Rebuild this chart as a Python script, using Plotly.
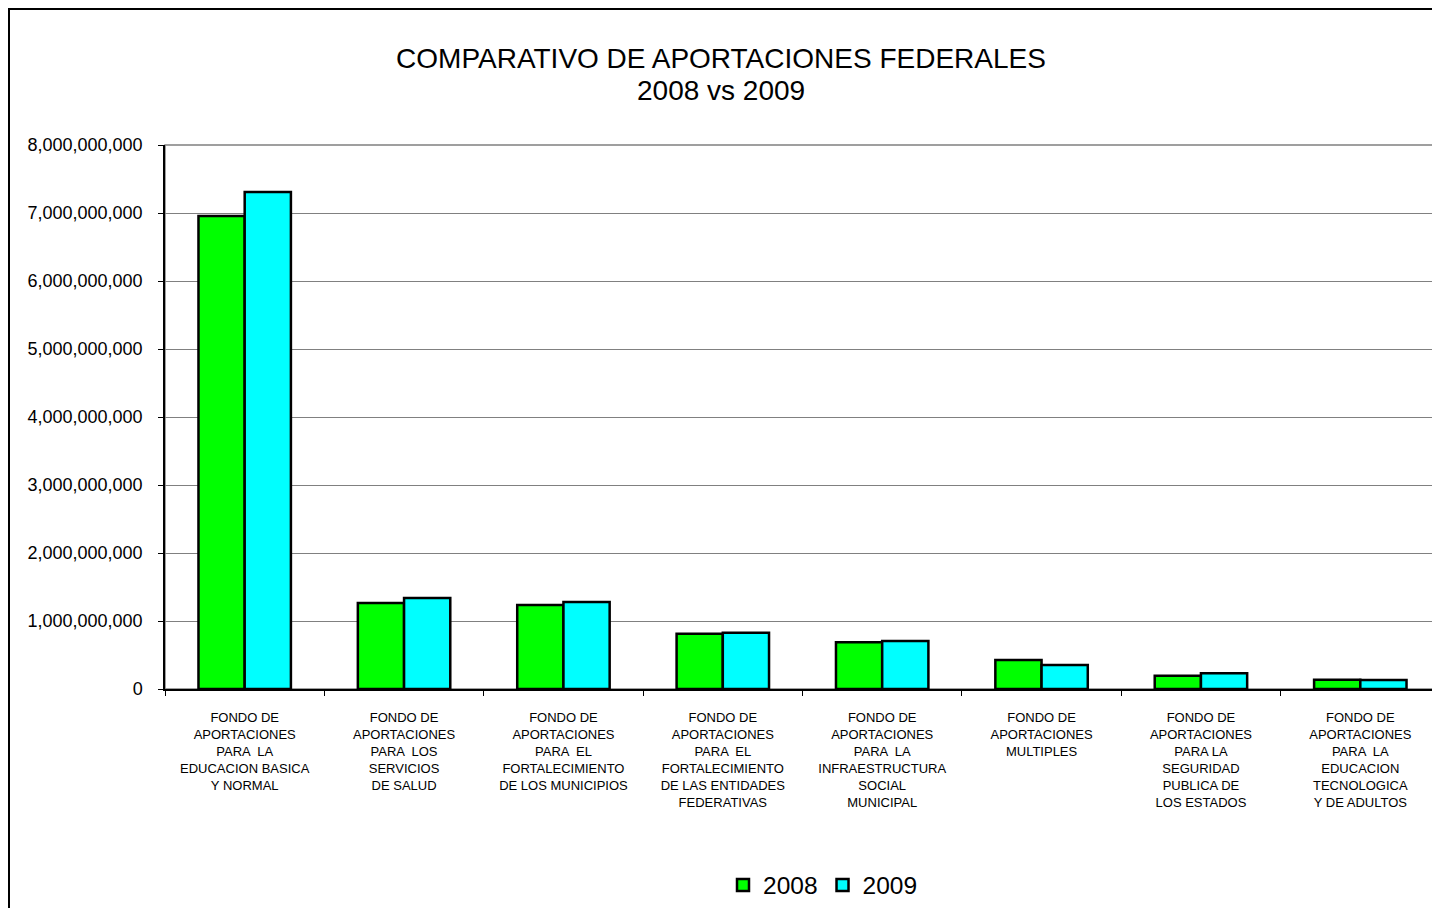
import plotly.graph_objects as go

categories = [
    "FONDO DE<br>APORTACIONES<br>PARA  LA<br>EDUCACION BASICA<br>Y NORMAL",
    "FONDO DE<br>APORTACIONES<br>PARA  LOS<br>SERVICIOS<br>DE SALUD",
    "FONDO DE<br>APORTACIONES<br>PARA  EL<br>FORTALECIMIENTO<br>DE LOS MUNICIPIOS",
    "FONDO DE<br>APORTACIONES<br>PARA  EL<br>FORTALECIMIENTO<br>DE LAS ENTIDADES<br>FEDERATIVAS",
    "FONDO DE<br>APORTACIONES<br>PARA  LA<br>INFRAESTRUCTURA<br>SOCIAL<br>MUNICIPAL",
    "FONDO DE<br>APORTACIONES<br>MULTIPLES",
    "FONDO DE<br>APORTACIONES<br>PARA LA<br>SEGURIDAD<br>PUBLICA DE<br>LOS ESTADOS",
    "FONDO DE<br>APORTACIONES<br>PARA  LA<br>EDUCACION<br>TECNOLOGICA<br>Y DE ADULTOS",
]
values_2008 = [6956000000, 1265000000, 1235000000, 813000000, 686000000, 426000000, 196000000, 137000000]
values_2009 = [7309000000, 1338000000, 1280000000, 828000000, 706000000, 353000000, 230000000, 132000000]
series_names = ["2008", "2009"]
title_line1 = "COMPARATIVO DE APORTACIONES FEDERALES"
title_line2 = "2008 vs 2009"
y_ticks = [0, 1000000000, 2000000000, 3000000000, 4000000000, 5000000000, 6000000000, 7000000000, 8000000000]
y_tick_labels = ["0", "1,000,000,000", "2,000,000,000", "3,000,000,000", "4,000,000,000",
                 "5,000,000,000", "6,000,000,000", "7,000,000,000", "8,000,000,000"]

FONT = "Liberation Sans, Arial, sans-serif"
W, H = 1432, 900
L, T, B = 157, 137, 219
PW, PH = W - L, H - T - B

fig = go.Figure()
fig.add_trace(go.Bar(x=categories, y=values_2008, name=series_names[0],
                     marker=dict(color="#00FF00", line=dict(color="black", width=2.5))))
fig.add_trace(go.Bar(x=categories, y=values_2009, name=series_names[1],
                     marker=dict(color="#00FFFF", line=dict(color="black", width=2.5))))

fig.update_layout(
    width=W, height=H,
    margin=dict(l=L, r=0, t=T, b=B),
    paper_bgcolor="white", plot_bgcolor="white",
    barmode="group", bargap=0.42, bargroupgap=0,
    font=dict(family=FONT, color="black"),
    title=dict(text=title_line1,
               x=713 / W, xref="container", xanchor="center",
               y=1 - 50 / H, yref="container", yanchor="middle",
               font=dict(size=28, family=FONT, color="black")),
    legend=dict(orientation="h", xref="container", yref="container",
                x=815 / W, xanchor="center", y=1 - 877 / H, yanchor="middle",
                font=dict(size=24.5, family=FONT, color="black"),
                traceorder="normal", bgcolor="rgba(0,0,0,0)"),
    xaxis=dict(type="category", showline=True, linecolor="black", linewidth=1.5,
               ticks="outside", tickson="boundaries", ticklen=5, tickcolor="black",
               tickangle=0, ticklabelstandoff=16,
               tickfont=dict(size=13, family=FONT, color="black"),
               showgrid=False, fixedrange=True),
    yaxis=dict(range=[0, 8000000000], tickvals=y_ticks, ticktext=y_tick_labels,
               showline=True, linecolor="black", linewidth=1.5,
               ticks="outside", ticklen=5, tickcolor="black", ticklabelstandoff=12,
               tickfont=dict(size=18, family=FONT, color="black"),
               showgrid=True, gridcolor="#808080", gridwidth=1,
               zeroline=False, fixedrange=True),
)

fig.add_annotation(text=title_line2, xref="paper", yref="paper",
                   x=(713 - L) / PW, y=(H - B - 83) / PH, xanchor="center", yanchor="middle",
                   showarrow=False, font=dict(size=28, family=FONT, color="black"))

# plot area border (gray, top and right)
fig.add_shape(type="rect", xref="paper", yref="paper", x0=0, x1=1, y0=0, y1=1,
              line=dict(color="#808080", width=1.5), layer="below")
# outer chart frame
fig.add_shape(type="rect", xref="paper", yref="paper",
              x0=(1 - L) / PW, x1=1.05, y0=-0.6, y1=(H - B - 1) / PH,
              line=dict(color="black", width=2))

fig.write_html("out.html")
